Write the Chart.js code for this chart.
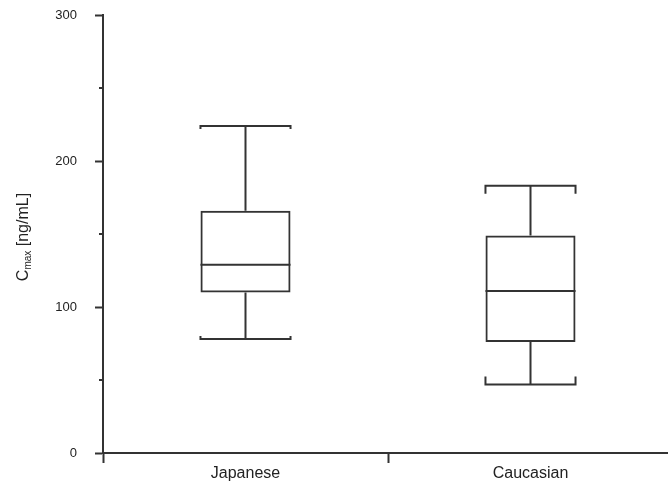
<!DOCTYPE html>
<html>
<head>
<meta charset="utf-8">
<script src="https://cdn.jsdelivr.net/npm/chart.js@4/dist/chart.umd.min.js"></script>
<style>
  html, body { margin: 0; padding: 0; overflow: hidden; background: #fff; }
  #wrap { width: 676px; height: 485px; }
</style>
</head>
<body>
<div id="wrap"><canvas id="chart"></canvas></div>
<script>
// box plot values
const groups = ["Japanese", "Caucasian"];
const whiskerLow = [78, 47];
const quartile1 = [110, 76];
const medians = [129, 111];
const quartile3 = [166, 149];
const whiskerHigh = [224, 183];

const ink = "#333";
const capDrop = [3, 8]; // little ends on the whisker caps

// median, whiskers and caps, placed with the chart's own scales
const boxExtras = {
  id: "boxExtras",
  afterDatasetsDraw(chart) {
    const ctx = chart.ctx;
    const y = chart.scales.y;
    const bars = chart.getDatasetMeta(0).data;
    ctx.save();
    ctx.strokeStyle = ink;
    ctx.lineWidth = 2;
    ctx.lineCap = "butt";
    bars.forEach((bar, i) => {
      const half = bar.width / 2;
      const l = bar.x - half, r = bar.x + half;
      const yMed = y.getPixelForValue(medians[i]);
      const yHi = y.getPixelForValue(whiskerHigh[i]);
      const yLo = y.getPixelForValue(whiskerLow[i]);
      const yQ1 = y.getPixelForValue(quartile1[i]);
      const yQ3 = y.getPixelForValue(quartile3[i]);
      const d = capDrop[i];
      ctx.beginPath();
      ctx.moveTo(l, yMed); ctx.lineTo(r, yMed);
      ctx.moveTo(bar.x, yQ3); ctx.lineTo(bar.x, yHi);
      ctx.moveTo(bar.x, yQ1); ctx.lineTo(bar.x, yLo);
      ctx.stroke();
      ctx.beginPath();
      ctx.moveTo(l, yHi + d); ctx.lineTo(l, yHi); ctx.lineTo(r, yHi); ctx.lineTo(r, yHi + d);
      ctx.moveTo(l, yLo - d); ctx.lineTo(l, yLo); ctx.lineTo(r, yLo); ctx.lineTo(r, yLo - d);
      ctx.stroke();
    });

    // shorter minor ticks on the y axis
    const left = chart.chartArea.left;
    y.ticks.forEach((t) => {
      if (t.value % 100 === 0) return;
      const py = y.getPixelForValue(t.value);
      ctx.beginPath();
      ctx.moveTo(left - 4, py);
      ctx.lineTo(left, py);
      ctx.stroke();
    });
    ctx.restore();
  },
};

// y title with the "max" subscript
const yTitle = {
  id: "yTitle",
  afterDraw(chart) {
    const ctx = chart.ctx;
    const area = chart.chartArea;
    const big = "16px 'Liberation Sans', Arial, sans-serif";
    const small = "10px 'Liberation Sans', Arial, sans-serif";
    ctx.save();
    ctx.fillStyle = "#222";
    ctx.textBaseline = "alphabetic";
    ctx.font = big;
    const wC = ctx.measureText("C").width;
    const wRest = ctx.measureText(" [ng/mL]").width;
    ctx.font = small;
    const wSub = ctx.measureText("max").width;
    const total = wC + wSub + wRest;
    ctx.translate(28, (area.top + area.bottom) / 2 + 3);
    ctx.rotate(-Math.PI / 2);
    let x = -total / 2;
    ctx.font = big;
    ctx.fillText("C", x, 0);
    x += wC;
    ctx.font = small;
    ctx.fillText("max", x, 3);
    x += wSub;
    ctx.font = big;
    ctx.fillText(" [ng/mL]", x, 0);
    ctx.restore();
  },
};

new Chart(document.getElementById("chart"), {
  type: "bar",
  data: {
    labels: groups,
    datasets: [
      {
        data: groups.map((g, i) => [quartile1[i], quartile3[i]]),
        backgroundColor: "rgba(255,255,255,0)",
        borderColor: ink,
        borderWidth: 2,
        borderSkipped: false,
        categoryPercentage: 1,
        barPercentage: 0.316,
      },
    ],
  },
  options: {
    responsive: true,
    maintainAspectRatio: false,
    animation: false,
    events: [],
    layout: { padding: { top: 15, right: 3, left: 0, bottom: 0 } },
    plugins: {
      legend: { display: false },
      tooltip: { enabled: false },
    },
    scales: {
      x: {
        grid: {
          offset: true,
          drawOnChartArea: false,
          tickLength: 10,
          tickWidth: 2,
          tickColor: ink,
        },
        border: { color: ink, width: 2 },
        ticks: {
          color: "#222",
          padding: 1,
          font: { size: 16, family: "'Liberation Sans', Arial, sans-serif" },
        },
        afterFit: (s) => { s.height = 32; s.paddingLeft = 0; s.paddingRight = 0; },
      },
      y: {
        min: 0,
        max: 300,
        grid: {
          drawOnChartArea: false,
          tickLength: 8,
          tickWidth: 2,
          tickColor: (c) => (c.tick && c.tick.value % 100 === 0 ? ink : "rgba(0,0,0,0)"),
        },
        border: { color: ink, width: 2 },
        ticks: {
          stepSize: 50,
          autoSkip: false,
          color: "#222",
          padding: 18,
          font: { size: 13, family: "'Liberation Sans', Arial, sans-serif" },
          callback: (v) => (v % 100 === 0 ? v : ""),
        },
        afterFit: (s) => { s.width = 103; s.paddingTop = 0; s.paddingBottom = 0; },
      },
    },
  },
  plugins: [boxExtras, yTitle],
});
</script>
</body>
</html>
